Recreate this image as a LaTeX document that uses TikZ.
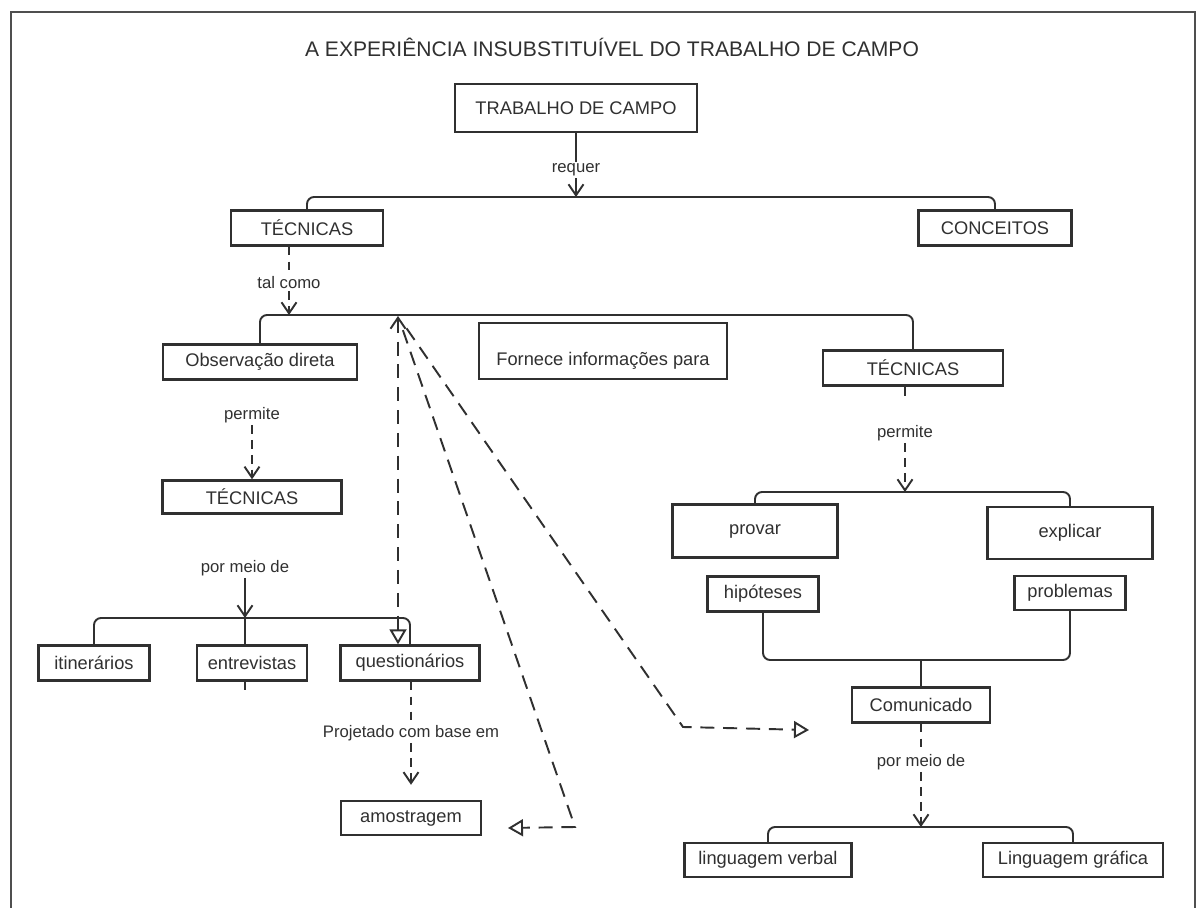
\documentclass[tikz,border=0pt]{standalone}
\usepackage{fontspec}
\setmainfont{Liberation Sans}
\usepackage{xcolor}
\usetikzlibrary{arrows.meta}
\definecolor{ink}{HTML}{303030}

\tikzset{
  concept/.style 2 args={draw=ink, line width=1.35pt, text=ink, inner sep=0pt,
    font=\fontsize{10.4}{12}\selectfont, minimum width=#1*0.02cm, minimum height=#2*0.02cm},
  phrase/.style={text=ink, inner sep=1pt, font=\fontsize{9.5}{11}\selectfont},
  link/.style={draw=ink, line width=1.1pt},
  dlink/.style={link, dash pattern=on 5pt off 3.5pt},
  flink/.style={link, dash pattern=on 8pt off 5pt},
  bar/.style={link, rounded corners=4pt},
  barb/.style={-{Straight Barb[length=2.2mm,width=3mm]}},
  opentri/.style={-{Triangle[open,length=3mm,width=3.4mm]}}
}

\begin{document}
\begin{tikzpicture}[x=0.02cm, y=-0.02cm]
\useasboundingbox (0,0) rectangle (1203,908);
% frame, open at the bottom
\draw[draw=ink!85, line width=1.5pt] (11,908) -- (11,12) -- (1195,12) -- (1195,908);
\node[text=ink, font=\fontsize{12}{14}\selectfont] (title) at (612,47) {A EXPERIÊNCIA INSUBSTITUÍVEL DO TRABALHO DE CAMPO};

% concepts
\node[concept={242}{48}] (trab) at (576,108) {TRABALHO DE CAMPO};
\node[concept={152}{35}] (tec1) at (307,228) {TÉCNICAS};
\node[concept={153}{35}] (conc) at (995,228) {CONCEITOS};
\node[concept={194}{35}] (obs) at (260,362) {Observação direta};
\node[concept={248}{56}, text height=0.67cm, text depth=0.08cm] (forn) at (603,351) {Fornece informações para};
\node[concept={180}{35}] (tec2) at (913,368) {TÉCNICAS};
\node[concept={179}{33}] (tec3) at (252,497) {TÉCNICAS};
\node[concept={165}{53}] (prov) at (755,531) {provar};
\node[concept={165}{52}] (expl) at (1070,533) {explicar};
\node[concept={111}{35}] (hip) at (763,594) {hipóteses};
\node[concept={111}{34}] (prob) at (1070,593) {problemas};
\node[concept={111}{35}] (itin) at (94,663) {itinerários};
\node[concept={110}{35}] (entr) at (252,663) {entrevistas};
\node[concept={139}{35}] (quest) at (410,663) {questionários};
\node[concept={138}{35}] (com) at (921,705) {Comunicado};
\node[concept={140}{34}] (amos) at (411,818) {amostragem};
\node[concept={167}{34}] (lv) at (768,860) {linguagem verbal};
\node[concept={180}{34}] (lg) at (1073,860) {Linguagem gráfica};

% linking phrases
\node[phrase] (requer) at (576,170) {requer};
\node[phrase] (talcomo) at (289,283) {tal como};
\node[phrase] (permA) at (252,415) {permite};
\node[phrase] (meioA) at (245,568) {por meio de};
\node[phrase] (proj) at (411,733) {Projetado com base em};
\node[phrase] (permB) at (905,433) {permite};
\node[phrase] (meioB) at (921,762) {por meio de};

% junctions
\coordinate (jReq) at (576,197);
\coordinate (jTal) at (289,315);
\coordinate (jMeioA) at (245,618);
\coordinate (jPermB) at (905,492);
\coordinate (jCom) at (921,660);
\coordinate (jMeioB) at (921,827);
\coordinate (stub) at (245,690);
\coordinate (fTop) at (398,316);
\coordinate (fBend) at (575,827);
\coordinate (fAmos) at (508,828);
\coordinate (fKnee) at (683,727);
\coordinate (fEnd) at (809,730);

% top
\draw[link] (trab) -- (requer);
\draw[link,barb] (requer) -- (jReq);
\draw[bar] (tec1.north) |- (jReq) -| (conc.north);

% left branch
\draw[dlink] (talcomo |- tec1.south) -- (talcomo);
\draw[dlink,barb] (talcomo) -- (jTal);
\draw[bar] (obs.north) |- (jTal) -| (tec2.north);
\draw[dlink,barb] (permA) -- (tec3.north);
\draw[link,barb] (meioA) -- (jMeioA);
\draw[bar] (itin.north) |- (jMeioA) -| (quest.north);
\draw[link] (jMeioA) -- (jMeioA |- entr.north);
\draw[link] (jMeioA |- entr.south) -- (stub);
\draw[dlink] (quest.south -| proj) -- (proj);
\draw[dlink,barb,shorten >=3mm] (proj) -- (amos.north);

% fornece informacoes para
\draw[flink,{Straight Barb[length=2.2mm,width=3mm]}-{Triangle[open,length=3mm,width=3.4mm]}] (fTop) -- (fTop |- quest.north);
\draw[flink,opentri,shorten <=3mm] (fTop) -- (fBend) -- (fAmos);
\draw[flink,opentri,shorten <=3mm] (fTop) -- (fKnee) -- (fEnd);

% right branch
\draw[link,shorten >=5.4mm] (tec2.south -| permB) -- (permB);
\draw[dlink,barb] (permB) -- (jPermB);
\draw[bar] (prov.north) |- (jPermB) -| (expl.north);
\draw[bar] (hip.south) |- (jCom) -| (prob.south);
\draw[link] (jCom) -- (com.north);
\draw[dlink] (com) -- (meioB);
\draw[dlink,barb] (meioB) -- (jMeioB);
\draw[bar] (lv.north) |- (jMeioB) -| (lg.north);
\end{tikzpicture}
\end{document}
